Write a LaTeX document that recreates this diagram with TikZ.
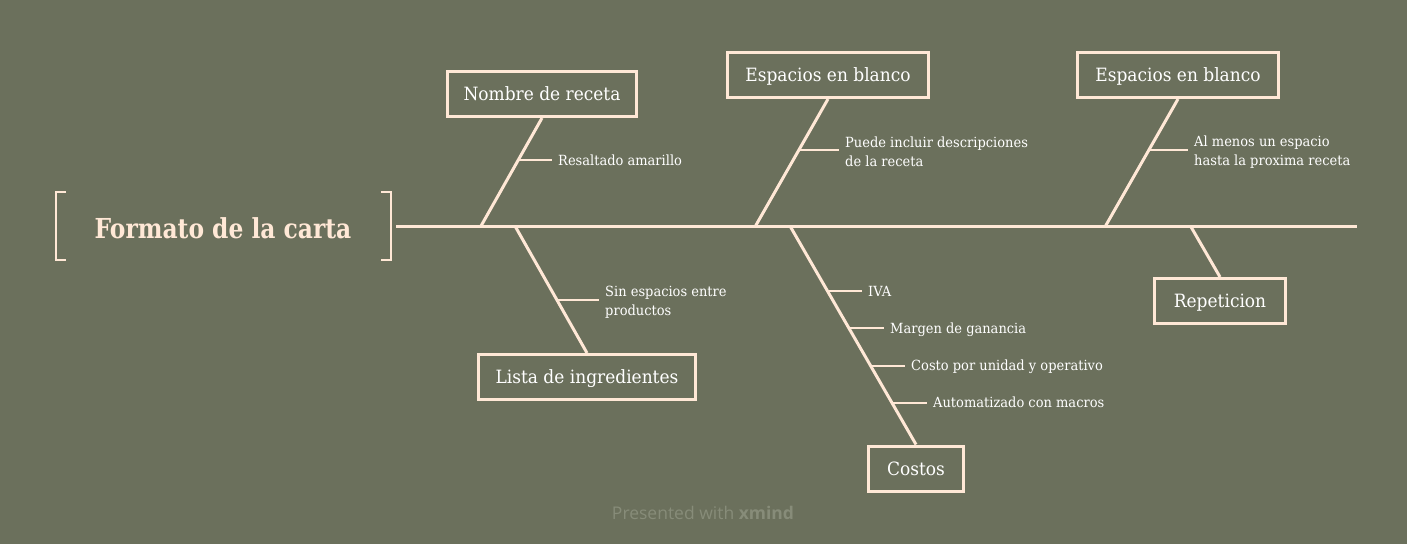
\documentclass[tikz,border=0pt]{standalone}
\usepackage{fontspec}
\setmainfont[FakeStretch=0.93]{DejaVu Serif}
\newfontfamily\titlefont[FakeStretch=0.85]{DejaVu Serif}
\newfontfamily\footfont{Open Sans}
\usetikzlibrary{calc}
\definecolor{bg}{HTML}{6B705C}
\definecolor{peach}{HTML}{FFE8D6}
\definecolor{foot}{HTML}{878C79}
\begin{document}
\begin{tikzpicture}[x=1pt,y=-1pt,
  box/.style={draw=peach, line width=3pt, fill=bg, text=white,
    font=\fontsize{18.3}{22}\selectfont, minimum height=45pt, inner sep=0pt,
    text height=13.4pt, text depth=0pt},
  bone/.style={draw=peach, line width=3pt},
  tickline/.style={draw=peach, line width=2pt},
  bracketline/.style={draw=peach, line width=2.5pt},
  sub/.style={text=white, font=\fontsize{14}{19}\selectfont, anchor=west,
    align=left, inner sep=0pt, inner xsep=6pt},
  one/.style={text height=10pt, text depth=0pt},
]
\fill[bg] (0,0) rectangle (1407,544);
\useasboundingbox (0,0) rectangle (1407,544);

% title with brackets
\node[text=peach, font=\titlefont\bfseries\fontsize{27.5}{32}\selectfont] (title) at (223,228) {Formato de la carta};
\draw[bracketline] (66,192) -- (56,192) -- (56,260) -- (66,260);
\draw[bracketline] (381,192) -- (391,192) -- (391,260) -- (381,260);

% spine
\coordinate (sL) at (396,226);
\coordinate (sR) at (1357,226);
\draw[bone] (sL) -- (sR);
\coordinate (s1) at (481,226);
\coordinate (s2) at (515,226);
\coordinate (s3) at (755.5,226);
\coordinate (s4) at (790,226);
\coordinate (s5) at (1105.5,226);
\coordinate (s6) at (1190.5,226);

% boxes
\node[box, minimum width=189pt] (nombre) at (542,94) {Nombre de receta};
\node[box, minimum width=217pt] (lista) at (587,377) {Lista de ingredientes};
\node[box, minimum width=95pt] (costos) at (916,468.5) {Costos};
\node[box, minimum width=201pt] (esp1) at (828,75) {Espacios en blanco};
\node[box, minimum width=201pt] (esp2) at (1178,75) {Espacios en blanco};
\node[box, minimum width=131pt] (rep) at (1220,301) {Repeticion};

% bones
\draw[bone] (nombre.south) -- (s1);
\draw[bone] (s2) -- (lista.north);
\draw[bone] (esp1.south) -- (s3);
\draw[bone] (s4) -- (costos.north);
\draw[bone] (esp2.south) -- (s5);
\draw[bone] (s6) -- (rep.north);

% intersections for ticks
\coordinate (t1) at (intersection of nombre.south--s1 and 0,160--10,160);
\coordinate (t2) at (intersection of s2--lista.north and 0,300--10,300);
\coordinate (t3) at (intersection of esp1.south--s3 and 0,150--10,150);
\coordinate (t4) at (intersection of esp2.south--s5 and 0,150--10,150);
\coordinate (t5) at (intersection of s4--costos.north and 0,291--10,291);
\coordinate (t6) at (intersection of s4--costos.north and 0,328--10,328);
\coordinate (t7) at (intersection of s4--costos.north and 0,365.7--10,365.7);
\coordinate (t8) at (intersection of s4--costos.north and 0,402.7--10,402.7);

% labels
\node[sub, one] (l1) at (552,160) {Resaltado amarillo};
\node[sub] (l2) at (599,302) {Sin espacios entre\\productos};
\node[sub] (l3) at (839,152) {Puede incluir descripciones\\de la receta};
\node[sub] (l4) at (1188,152) {Al menos un espacio\\hasta la proxima receta};
\node[sub, one] (l5) at (862,291) {IVA};
\node[sub, one] (l6) at (884,328) {Margen de ganancia};
\node[sub, one] (l7) at (905,365.7) {Costo por unidad y operativo};
\node[sub, one] (l8) at (927,402.7) {Automatizado con macros};

\draw[tickline] (t1) -- (t1 -| l1.west);
\draw[tickline] (t2) -- (t2 -| l2.west);
\draw[tickline] (t3) -- (t3 -| l3.west);
\draw[tickline] (t4) -- (t4 -| l4.west);
\draw[tickline] (t5) -- (t5 -| l5.west);
\draw[tickline] (t6) -- (t6 -| l6.west);
\draw[tickline] (t7) -- (t7 -| l7.west);
\draw[tickline] (t8) -- (t8 -| l8.west);

% footer
\node[text=foot, font=\footfont\fontsize{17.5}{20}\selectfont] (footer) at (703,513) {Presented with \textbf{xmind}};
\end{tikzpicture}
\end{document}
